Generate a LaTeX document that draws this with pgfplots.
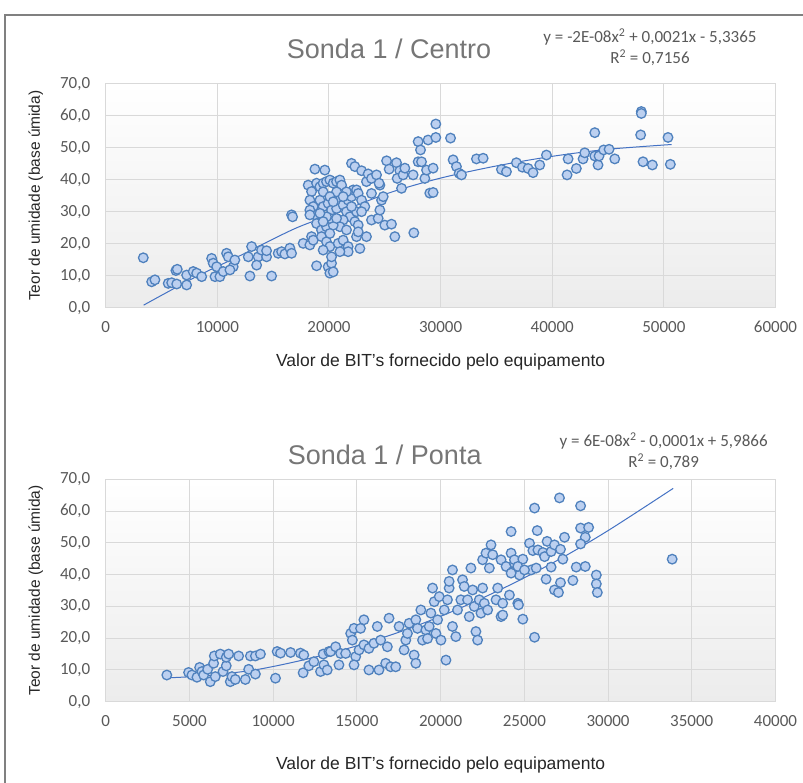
\documentclass[border=0pt]{standalone}
\usepackage{fontspec}
\setmainfont{Liberation Sans}
\newfontfamily\carlito{Carlito}
\usepackage{pgfplots}
\usepackage{pgfplotstable}
\pgfplotsset{compat=1.18}
\definecolor{mfill}{RGB}{188,208,240}
\definecolor{mdraw}{RGB}{79,129,189}
\definecolor{trend}{RGB}{68,114,196}
\definecolor{gridc}{RGB}{217,217,217}
\definecolor{ticktext}{RGB}{89,89,89}
\definecolor{titlec}{RGB}{118,118,118}
\definecolor{bgbot}{RGB}{236,236,236}

\pgfplotstableread{
x y
3366 15.6
4120 8.1
4410 8.7
5600 7.6
5910 7.8
6360 7.4
7250 7.1
6290 11.6
6410 12.0
7250 10.2
7840 11.3
8150 10.8
8600 9.7
9490 15.4
9630 13.9
9940 12.8
9790 9.7
10230 9.7
10830 17.0
10980 15.9
11420 12.8
11570 14.9
10530 11.3
11130 11.8
12920 9.9
13070 19.1
12770 15.9
13660 15.9
13520 13.3
13960 18.0
14410 15.9
14410 17.8
14860 9.9
15450 17.0
15760 17.5
16050 16.8
16500 18.6
16650 17.0
16650 29.0
16740 28.4
17690 20.1
18290 19.6
18440 22.2
18890 13.1
19930 12.8
20080 10.8
20230 13.9
18140 38.3
18440 36.3
18290 33.6
18590 31.6
18740 29.0
18890 38.9
19190 37.8
19480 38.9
19780 39.4
20080 39.9
20380 38.9
20680 39.4
20980 39.9
21130 38.3
18290 30.5
18890 26.3
19330 24.3
19780 25.3
19190 33.6
19480 31.6
19930 32.6
20230 30.5
20680 31.0
20980 33.6
21270 32.1
21720 33.6
22020 34.7
22170 36.8
22470 36.8
22620 35.7
22920 33.6
23210 31.6
21570 30.0
21870 28.4
22320 26.9
22620 25.8
21270 27.4
20980 25.3
20380 25.8
20080 27.9
19780 28.4
19190 29.5
18290 29.0
18590 21.1
19330 22.2
19780 20.6
20080 19.1
20230 15.9
20380 11.2
20830 20.1
21270 21.1
21720 19.1
21720 17.5
22470 22.2
22620 23.7
23360 22.2
22770 18.5
23810 27.4
24410 27.9
25000 25.8
25600 26.1
24560 30.5
24710 33.6
24860 34.7
23810 35.7
24560 38.3
23360 39.4
25900 22.2
27600 23.4
19480 36.2
20680 36.2
21570 36.2
20080 34.7
21270 34.7
22470 30.0
22920 30.0
22020 31.6
20380 33.1
19480 26.9
20680 27.9
21570 24.3
20080 23.2
20980 17.5
19480 18.0
18740 43.3
19630 43.0
22020 45.1
22320 44.1
22920 42.8
23510 41.8
23810 40.4
24260 41.5
24490 38.9
25160 45.9
25390 43.3
26050 45.3
26350 42.8
26110 40.4
26640 41.5
26800 43.6
26500 37.3
27540 41.5
27990 51.9
28200 49.3
27990 45.6
28290 45.6
28590 40.4
28740 43.0
28880 52.4
29330 43.6
29570 57.4
29570 53.2
29030 35.8
29330 36.0
30890 53.0
31120 46.2
31420 44.1
31660 42.0
31870 41.5
33210 46.5
33810 46.7
35450 43.2
35900 42.5
36790 45.3
37330 43.9
37840 43.5
38280 42.2
38880 44.6
39480 47.7
41330 41.5
41420 46.5
42160 43.5
42760 46.5
42910 48.4
43810 54.7
43810 47.4
44100 44.6
44190 47.4
44610 49.3
45090 49.5
45600 46.5
47980 61.3
47980 60.7
47920 54.0
48130 45.6
48970 44.6
50370 53.2
50580 44.8
}\centrodata

\pgfplotstableread{
x y
3400 0.8
8000 9.5
12000 16.2
17000 24.8
21000 30.0
25500 36.0
30000 40.5
35000 44.3
40000 47.3
45000 49.5
50700 51.0
}\centrotrend

\pgfplotstableread{
x y
3650 8.4
4950 9.2
5150 8.4
5450 7.7
5610 10.8
5750 9.5
5850 8.4
6090 10.2
6245 6.3
6445 12.1
6485 14.4
6545 7.9
6845 15.0
7005 9.5
7200 11.3
7200 14.0
7340 15.0
7440 6.3
7540 7.9
7740 7.0
7940 14.4
8340 7.0
8540 10.2
8640 14.4
8940 14.4
8940 8.7
9240 15.0
10140 7.4
10240 15.8
10440 15.3
11040 15.5
11630 15.3
11830 14.7
11790 9.1
12130 11.3
12430 12.6
12830 9.5
12990 15.0
13030 11.6
13330 15.8
13230 10.0
13430 15.8
13730 17.3
13930 11.6
14030 15.2
14330 15.2
14630 21.5
14730 19.4
14830 23.1
14930 14.2
14830 11.6
15130 16.3
15420 25.8
15220 23.1
15420 17.9
15720 16.8
15720 10.0
16020 18.4
16220 23.7
16320 10.0
16420 19.4
16720 12.1
16820 17.3
16920 26.3
17020 11.0
17320 11.0
17520 23.7
17820 16.3
17920 19.4
18020 21.5
18120 24.7
18420 14.7
18520 12.1
18520 25.8
18620 23.1
18820 28.9
18920 19.4
19120 22.6
19220 19.9
19320 23.7
19420 27.9
19520 35.8
19620 31.5
19720 21.5
19820 25.8
19920 33.1
20020 19.4
20220 28.9
20320 13.1
20410 32.1
20510 35.8
20510 37.9
20710 41.5
20710 23.7
20910 20.5
21010 28.9
21210 32.1
21310 38.4
21410 36.3
21610 32.1
21710 26.8
21810 42.1
21910 35.2
22010 30.0
22110 22.1
22210 19.4
22310 32.1
22410 27.9
22510 35.8
22510 44.7
22610 31.0
22710 46.8
22810 28.9
22910 42.1
23010 49.4
23110 46.3
23310 32.1
23410 35.8
23610 26.8
23610 44.7
23710 31.0
23910 42.6
24110 33.6
24210 53.6
24210 46.8
24310 41.0
24410 43.6
24610 31.0
24710 39.9
25610 61.0
27100 64.2
28360 61.7
25770 53.9
28360 54.7
28840 54.9
28640 51.8
28360 49.7
27400 51.8
25310 49.9
25510 47.6
25810 47.8
26110 47.0
26210 45.7
26360 50.5
26600 47.3
26800 49.4
27160 48.0
27300 44.9
24410 44.7
24910 44.9
24610 42.6
24210 40.5
25410 41.5
25710 42.1
25010 41.5
26600 42.4
28100 42.4
28640 42.6
29300 39.9
29300 37.1
29360 34.4
26300 38.6
27160 37.5
27900 38.2
26800 35.2
27040 34.4
24650 30.5
24910 26.0
25610 20.3
33830 44.9
23710 27.3
}\pontadata

\pgfplotstableread{
x y
3650 7.5
6000 8.2
9000 10.1
12000 13.4
15000 17.6
18000 22.8
21000 29.1
24000 36.4
27000 44.6
30000 53.9
33890 67.2
}\pontatrend

\pgfplotsset{
  exstyle/.style={
    scale only axis, width=669.8pt,
    xmin=0, ymin=0, ymax=70, ytick={0,10,...,70},
    grid=major, major grid style={draw=gridc, line width=1pt},
    axis line style={draw=gridc, line width=1pt},
    major tick length=0pt,
    axis background/.style={top color=white, bottom color=bgbot},
    /pgf/number format/assume math mode=true,
    tick label style={font=\carlito\fontsize{17}{20}\selectfont, text=ticktext},
    yticklabel style={/pgf/number format/fixed, /pgf/number format/fixed zerofill, /pgf/number format/precision=1, /pgf/number format/use comma, xshift=-12pt},
    xticklabel style={/pgf/number format/fixed, /pgf/number format/1000 sep={}, yshift=-10pt},
    scaled x ticks=false,
    xlabel style={font=\fontsize{17.5}{20}\selectfont, text=black!85, at={(axis description cs:0.5,-0.241)}, anchor=center},
    ylabel style={font=\fontsize{15.5}{18}\selectfont, text=black!85, at={(axis description cs:-0.1045,0.5)}, anchor=center, rotate=0},
    title style={font=\fontsize{27}{30}\selectfont, text=titlec, anchor=center},
    clip=false,
  },
  pts/.style={only marks, mark=*, mark size=4.8pt, mark options={fill=mfill, draw=mdraw, line width=1.3pt}},
  tr/.style={no marks, smooth, trend, line width=1pt},
}

\begin{document}
\begin{tikzpicture}
\useasboundingbox (0pt,0pt) rectangle (803pt,783pt);
\draw[color={rgb,255:red,128;green,128;blue,128}, line width=1.5pt] (803pt,768pt) -- (5pt,768pt) -- (5pt,0pt);

\begin{axis}[exstyle, at={(105.7pt,475.3pt)}, anchor=south west, height=224pt,
  xmax=60000, xtick={0,10000,...,60000},
  title={Sonda 1 / Centro}, title style={at={(axis description cs:0.423,1.128)}},
  xlabel={Valor de BIT's fornecido pelo equipamento},
  ylabel={Teor de umidade (base úmida)}]
\addplot[pts] table[x=x,y=y] {\centrodata};
\addplot[tr] table[x=x,y=y] {\centrotrend};
\node[align=center, font=\carlito\fontsize{17}{21}\selectfont, text=ticktext] at (axis description cs:0.8126,1.1616) {y = -2E-08x\textsuperscript{2} + 0,0021x - 5,3365\\R\textsuperscript{2} = 0,7156};
\end{axis}

\begin{axis}[exstyle, at={(105.7pt,81.3pt)}, anchor=south west, height=222.2pt,
  xmax=40000, xtick={0,5000,...,40000},
  title={Sonda 1 / Ponta}, title style={at={(axis description cs:0.4166,1.085)}},
  xlabel={Valor de BIT's fornecido pelo equipamento},
  xlabel style={at={(axis description cs:0.5,-0.284)}},
  ylabel={Teor de umidade (base úmida)}]
\addplot[pts] table[x=x,y=y] {\pontadata};
\addplot[tr] table[x=x,y=y] {\pontatrend};
\node[align=center, font=\carlito\fontsize{17}{21}\selectfont, text=ticktext] at (axis description cs:0.833,1.128) {y = 6E-08x\textsuperscript{2} - 0,0001x + 5,9866\\R\textsuperscript{2} = 0,789};
\end{axis}
\end{tikzpicture}
\end{document}
